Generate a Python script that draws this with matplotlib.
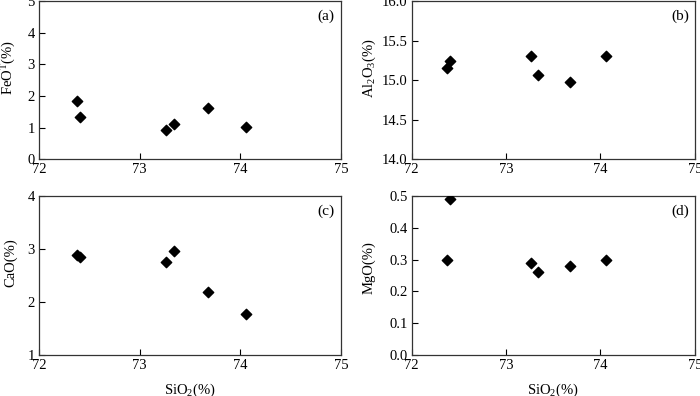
import matplotlib
matplotlib.use("Agg")
import matplotlib.pyplot as plt

plt.rcParams["font.family"] = ["Liberation Serif", "DejaVu Serif"]
plt.rcParams["mathtext.fontset"] = "custom"
plt.rcParams["mathtext.rm"] = "Liberation Serif"
plt.rcParams["mathtext.it"] = "Liberation Serif:italic"
plt.rcParams["font.size"] = 10.5

# SiO2 (%) of the six samples
sio2 = [72.38, 72.41, 73.26, 73.34, 73.68, 74.06]
# oxides against SiO2
feo_t = [1.84, 1.33, 0.92, 1.10, 1.62, 1.03]
al2o3 = [15.15, 15.24, 15.30, 15.07, 14.98, 15.30]
cao = [2.89, 2.85, 2.76, 2.97, 2.18, 1.77]
mgo = [0.30, 0.49, 0.29, 0.26, 0.28, 0.30]

x_ticks = [72, 73, 74, 75]

panels = [
    # values, y label, y limits, y ticks, tick format, tag, axes rect, label pos
    (feo_t, r"FeO$^\mathrm{T}$(%)", (0, 5), [0, 1, 2, 3, 4, 5], "{:.0f}", "(a)",
     [0.0557, 0.598, 0.4314, 0.399], (-0.068, 0.58)),
    (al2o3, r"Al$_2$O$_3$(%)", (14.0, 16.0), [14.0, 14.5, 15.0, 15.5, 16.0], "{:.1f}", "(b)",
     [0.588, 0.598, 0.4047, 0.399], (-0.12, 0.575)),
    (cao, "CaO(%)", (1, 4), [1, 2, 3, 4], "{:.0f}", "(c)",
     [0.0557, 0.1035, 0.4314, 0.4015], (-0.072, 0.58)),
    (mgo, "MgO(%)", (0.0, 0.5), [0.0, 0.1, 0.2, 0.3, 0.4, 0.5], "{:.1f}", "(d)",
     [0.588, 0.1035, 0.4047, 0.4015], (-0.126, 0.55)),
]

fig = plt.figure(figsize=(7.0, 3.96), dpi=100)

for i, (vals, ylab, ylim, yt, fmt, tag, rect, lpos) in enumerate(panels):
    ax = fig.add_axes(rect)
    ax.scatter(sio2, vals, marker="D", s=28, color="black", zorder=3)
    ax.set_xlim(72, 75)
    ax.set_ylim(*ylim)
    ax.set_xticks(x_ticks)
    ax.set_xticklabels([str(v) for v in x_ticks])
    ax.set_yticks(yt)
    ax.set_yticklabels([fmt.format(v) for v in yt])
    ax.tick_params(direction="in", length=4, width=0.8, pad=3, labelsize=10.5)
    for sp in ax.spines.values():
        sp.set_linewidth(0.9)
        sp.set_color("#333333")
    ax.set_ylabel(ylab)
    ax.yaxis.set_label_coords(*lpos)
    if i >= 2:
        ax.set_xlabel(r"SiO$_2$(%)", labelpad=7)
    ax.text(0.95, 0.905, tag, transform=ax.transAxes, ha="center", va="center",
            fontsize=11)

fig.savefig("out.png", dpi=100)
